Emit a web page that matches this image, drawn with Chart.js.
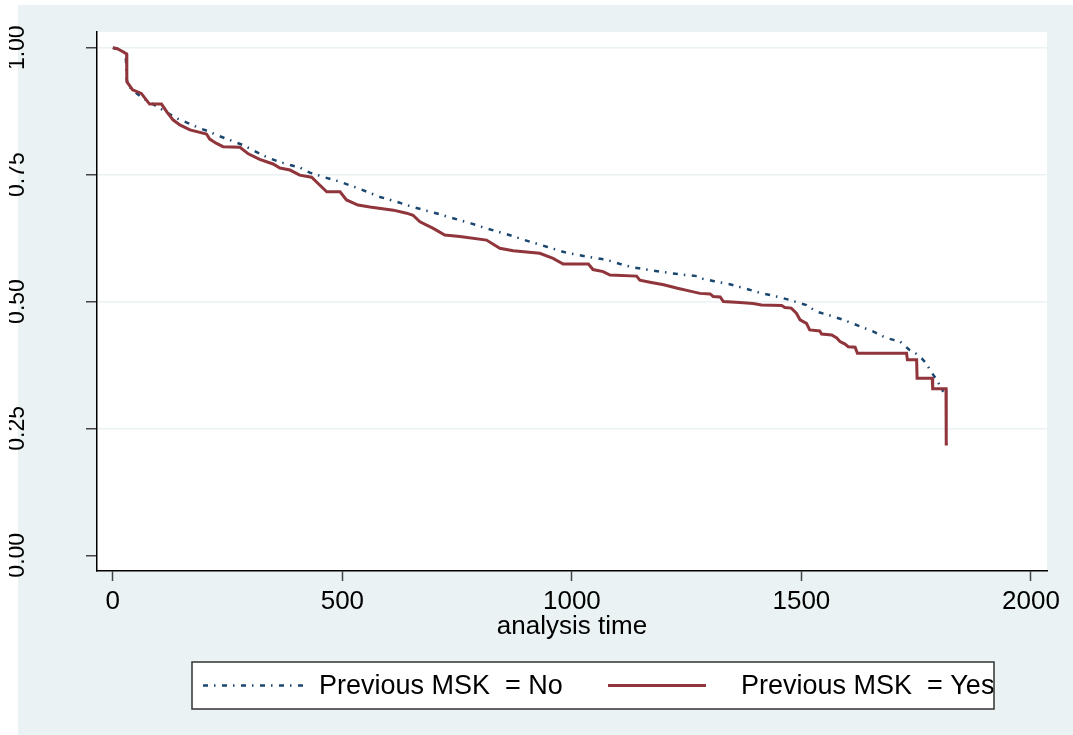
<!DOCTYPE html>
<html>
<head>
<meta charset="utf-8">
<script src="https://cdn.jsdelivr.net/npm/chart.js@4/dist/chart.umd.min.js"></script>
<style>
  html, body { margin: 0; padding: 0; background: #ffffff; }
  #c { display: block; }
</style>
</head>
<body>
<canvas id="c" width="1073" height="735"></canvas>
<script>
// ---- Data ----
const seriesNames = ["Previous MSK  = No", "Previous MSK  = Yes"];

const timeNo = [0, 20, 28, 30, 33, 45, 62, 80, 102, 120, 139, 165, 190, 210, 226, 255, 284, 310, 334, 360,
  386, 407, 429, 460, 495, 540, 582, 620, 654, 700, 741, 780, 814, 860, 901, 945, 988, 1030, 1076, 1105,
  1134, 1170, 1206, 1240, 1272, 1279, 1310, 1344, 1380, 1410, 1445, 1475, 1495, 1511, 1533, 1560, 1591,
  1625, 1656, 1685, 1715, 1736, 1750, 1762, 1772, 1780, 1795, 1809];
const survNo = [1.000, 0.995, 0.988, 0.940, 0.926, 0.915, 0.903, 0.893, 0.881, 0.871, 0.861, 0.851, 0.841,
  0.835, 0.828, 0.818, 0.808, 0.796, 0.785, 0.776, 0.769, 0.764, 0.754, 0.745, 0.736, 0.721, 0.706, 0.696,
  0.686, 0.675, 0.664, 0.654, 0.644, 0.632, 0.620, 0.608, 0.596, 0.589, 0.582, 0.574, 0.567, 0.562, 0.557,
  0.553, 0.550, 0.546, 0.540, 0.534, 0.525, 0.517, 0.510, 0.503, 0.497, 0.493, 0.480, 0.473, 0.464, 0.452,
  0.441, 0.428, 0.421, 0.404, 0.397, 0.388, 0.378, 0.365, 0.345, 0.322];

const timeYes = [0, 10, 20, 30, 30.5, 43, 62, 80, 106, 118, 131, 146, 168, 204, 211, 225, 240, 277, 295, 320,
  349, 364, 386, 407, 433, 450, 466, 495, 509, 534, 560, 611, 640, 654, 669, 698, 723, 756, 814, 843, 872,
  930, 959, 981, 1036, 1046, 1068, 1083, 1141, 1148, 1170, 1200, 1230, 1260, 1279, 1301, 1308, 1323, 1330,
  1366, 1395, 1413, 1457, 1464, 1478, 1489, 1497, 1511, 1518, 1540, 1544, 1566, 1577, 1584, 1595, 1602,
  1617, 1622, 1729, 1731, 1751, 1752, 1785, 1786, 1815, 1815.5, 1819];
const survYes = [1.000, 0.998, 0.993, 0.988, 0.933, 0.917, 0.910, 0.889, 0.889, 0.873, 0.858, 0.848, 0.838,
  0.830, 0.820, 0.812, 0.805, 0.804, 0.791, 0.780, 0.771, 0.763, 0.759, 0.749, 0.745, 0.730, 0.716, 0.716,
  0.700, 0.690, 0.686, 0.680, 0.674, 0.670, 0.657, 0.644, 0.631, 0.628, 0.621, 0.605, 0.600, 0.595, 0.585,
  0.574, 0.574, 0.563, 0.559, 0.552, 0.550, 0.542, 0.538, 0.533, 0.526, 0.520, 0.516, 0.515, 0.510, 0.509,
  0.500, 0.498, 0.496, 0.493, 0.492, 0.488, 0.487, 0.477, 0.464, 0.457, 0.444, 0.442, 0.436, 0.434, 0.428,
  0.421, 0.416, 0.411, 0.410, 0.398, 0.398, 0.385, 0.385, 0.349, 0.349, 0.328, 0.328, 0.219, 0.219];

const xTickValues = [0, 500, 1000, 1500, 2000];
const yTickValues = [0, 0.25, 0.5, 0.75, 1];
const yTickLabels = ["0.00", "0.25", "0.50", "0.75", "1.00"];
const xTitle = "analysis time";

// ---- Styling ----
const FONT = "'Liberation Sans', Arial, Helvetica, sans-serif";
const BG = "#eaf2f3";
const NAVY = "#1a476f";
const MAROON = "#90353b";
const BLUE_DASH = [5, 6, 1.5, 6.5];

const toPts = (ts, ss) => ts.map((t, i) => ({ x: t, y: ss[i] }));

const bgPlugin = {
  id: "bgPlugin",
  beforeDraw(chart) {
    const ctx = chart.ctx, a = chart.chartArea;
    ctx.save();
    ctx.fillStyle = "#ffffff";
    ctx.fillRect(0, 0, chart.width, chart.height);
    ctx.fillStyle = BG;
    ctx.fillRect(18, 5, chart.width - 18, chart.height - 5);
    ctx.fillStyle = "#ffffff";
    ctx.fillRect(a.left, a.top, a.right - a.left, a.bottom - a.top);
    ctx.restore();
  }
};

const yLabelPlugin = {
  id: "yLabelPlugin",
  afterDraw(chart) {
    const ctx = chart.ctx, ys = chart.scales.y;
    ctx.save();
    ctx.beginPath();
    ctx.rect(9, 0, 90, chart.height);
    ctx.clip();
    ctx.fillStyle = "#000";
    ctx.font = "23px " + FONT;
    ctx.textAlign = "center";
    ctx.textBaseline = "alphabetic";
    yTickValues.forEach((v, i) => {
      const py = ys.getPixelForValue(v);
      ctx.save();
      ctx.translate(24, py);
      ctx.rotate(-Math.PI / 2);
      ctx.fillText(yTickLabels[i], 0, 0);
      ctx.restore();
    });
    ctx.restore();
  }
};

const legendPlugin = {
  id: "legendBox",
  afterDraw(chart) {
    const ctx = chart.ctx;
    const bx = 192, by = 662, bw = 802, bh = 47;
    ctx.save();
    ctx.fillStyle = "#ffffff";
    ctx.fillRect(bx, by, bw, bh);
    const cy = by + bh / 2;
    const entries = [
      { ds: chart.data.datasets[0], x1: 203, x2: 305, tx: 319 },
      { ds: chart.data.datasets[1], x1: 608, x2: 706, tx: 741 }
    ];
    ctx.save();
    ctx.beginPath();
    ctx.rect(bx, by, bw, bh);
    ctx.clip();
    entries.forEach(e => {
      ctx.beginPath();
      ctx.strokeStyle = e.ds.borderColor;
      ctx.lineWidth = e.ds.borderWidth;
      ctx.setLineDash(e.ds.borderDash || []);
      ctx.lineCap = "butt";
      ctx.moveTo(e.x1, cy);
      ctx.lineTo(e.x2, cy);
      ctx.stroke();
      ctx.setLineDash([]);
      ctx.fillStyle = "#000";
      ctx.font = "27px " + FONT;
      ctx.textAlign = "left";
      ctx.textBaseline = "middle";
      ctx.fillText(e.ds.label, e.tx, cy + 1);
    });
    ctx.restore();
    ctx.strokeStyle = "#333";
    ctx.lineWidth = 1.5;
    ctx.strokeRect(bx, by, bw, bh);
    ctx.restore();
  }
};

new Chart(document.getElementById("c"), {
  type: "line",
  data: {
    datasets: [
      {
        label: seriesNames[0],
        data: toPts(timeNo, survNo),
        borderColor: NAVY,
        borderWidth: 2.5,
        borderDash: BLUE_DASH,
        tension: 0,
        pointRadius: 0,
        fill: false,
        order: 1
      },
      {
        label: seriesNames[1],
        data: toPts(timeYes, survYes),
        borderColor: MAROON,
        borderWidth: 3,
        borderJoinStyle: "miter",
        tension: 0,
        pointRadius: 0,
        fill: false,
        order: 0
      }
    ]
  },
  options: {
    responsive: false,
    animation: false,
    devicePixelRatio: 1,
    layout: { padding: { left: 0, top: 32, right: 26, bottom: 93 } },
    plugins: { legend: { display: false }, tooltip: { enabled: false }, title: { display: false } },
    scales: {
      x: {
        type: "linear",
        position: "bottom",
        min: -34.5,
        max: 2035,
        afterBuildTicks: s => { s.ticks = xTickValues.map(v => ({ value: v })); },
        afterFit: s => { s.height = 71; },
        ticks: {
          color: "#000",
          font: { family: FONT, size: 26 },
          padding: 5,
          maxRotation: 0,
          autoSkip: false,
          callback: v => String(v)
        },
        grid: { drawOnChartArea: false, drawTicks: true, tickLength: 10, tickColor: "#444", tickWidth: 1.5 },
        border: { display: true, color: "#000", width: 1.5 },
        title: { display: true, text: xTitle, color: "#000", font: { family: FONT, size: 26 }, padding: 0 }
      },
      y: {
        type: "linear",
        position: "left",
        min: -0.031,
        max: 1.031,
        afterBuildTicks: s => { s.ticks = yTickValues.map(v => ({ value: v })); },
        afterFit: s => { s.width = 97; },
        ticks: { display: false },
        grid: {
          drawOnChartArea: true,
          drawTicks: true,
          tickLength: 11,
          tickColor: "#444",
          tickWidth: 1.5,
          lineWidth: 1.5,
          color: c => (c.tick && c.tick.value === 0) ? "rgba(0,0,0,0)" : BG
        },
        border: { display: true, color: "#000", width: 1.5 }
      }
    }
  },
  plugins: [bgPlugin, yLabelPlugin, legendPlugin]
});
</script>
</body>
</html>
